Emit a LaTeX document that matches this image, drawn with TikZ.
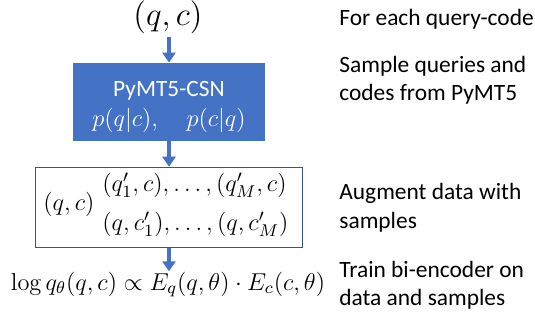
\documentclass[tikz,border=0pt]{standalone}
\usepackage{fix-cm}
\usepackage{fontspec}
\newfontfamily\slidefont{Carlito}
\usepackage{tikz}
\usetikzlibrary{arrows.meta, positioning}

\definecolor{pptblue}{RGB}{68,114,196}
\definecolor{frameblue}{RGB}{47,85,151}

\begin{document}
\begin{tikzpicture}[
    x=0.5pt, y=-0.5pt,
    >={Triangle[width=6.5pt,length=5pt]},
    flow/.style={->, draw=pptblue, line width=2pt},
    gen/.style={rectangle, fill=pptblue, minimum width=96pt, minimum height=39pt, inner sep=0pt},
    data/.style={rectangle, draw=frameblue, line width=0.8pt, fill=white, minimum width=133.5pt, minimum height=40pt, inner sep=0pt},
    txt/.style={font=\slidefont\fontsize{11.7}{14}\selectfont, inner sep=0pt},
    note/.style={txt, anchor=base west, align=left},
    eq/.style={font=\fontsize{12.2}{14.6}\selectfont, inner sep=0pt}
]
\useasboundingbox (0,0) rectangle (535,320);

% Input pair
\node[font=\fontsize{16.5}{19}\selectfont, inner sep=1pt, anchor=base] (pair) at (168,26) {$(q,c)$};

% Generator
\node[gen] (csn) at (169,102) {};
\node[txt, text=white, anchor=base] (csn_name) at (169,97) {PyMT5-CSN};
\node[eq, text=white, anchor=base] (csn_prob) at (169,127) {$p(q|c),\quad p(c|q)$};

% Augmented data
\node[data] (aug) at (169,207.5) {};
\node[eq, anchor=base west] (aug_set) at (43,211) {$(q,c)\begin{array}{@{\hspace{4pt}}l@{}}(q'_1,c),\ldots,(q'_M,c)\\[5pt](q,c'_1),\ldots,(q,c'_M)\end{array}$};

% Bi-encoder objective
\node[eq, anchor=base] (loss) at (168,290) {$\log q_\theta(q,c)\propto E_q(q,\theta)\cdot E_c(c,\theta)$};

% Arrows
\draw[flow] (csn.north |- pair.south) -- (csn);
\draw[flow] (csn) -- (aug);
\draw[flow] (aug) -- (aug |- loss.north);

% Step notes (base = last line)
\node[note] (step1) at (339,26) {For each query-code};
\node[note] (step2) at (339,101) {Sample queries and\\codes from PyMT5};
\node[note] (step3) at (339,228) {Augment data with\\samples};
\node[note] (step4) at (339,306) {Train bi-encoder on\\data and samples};

\end{tikzpicture}
\end{document}
